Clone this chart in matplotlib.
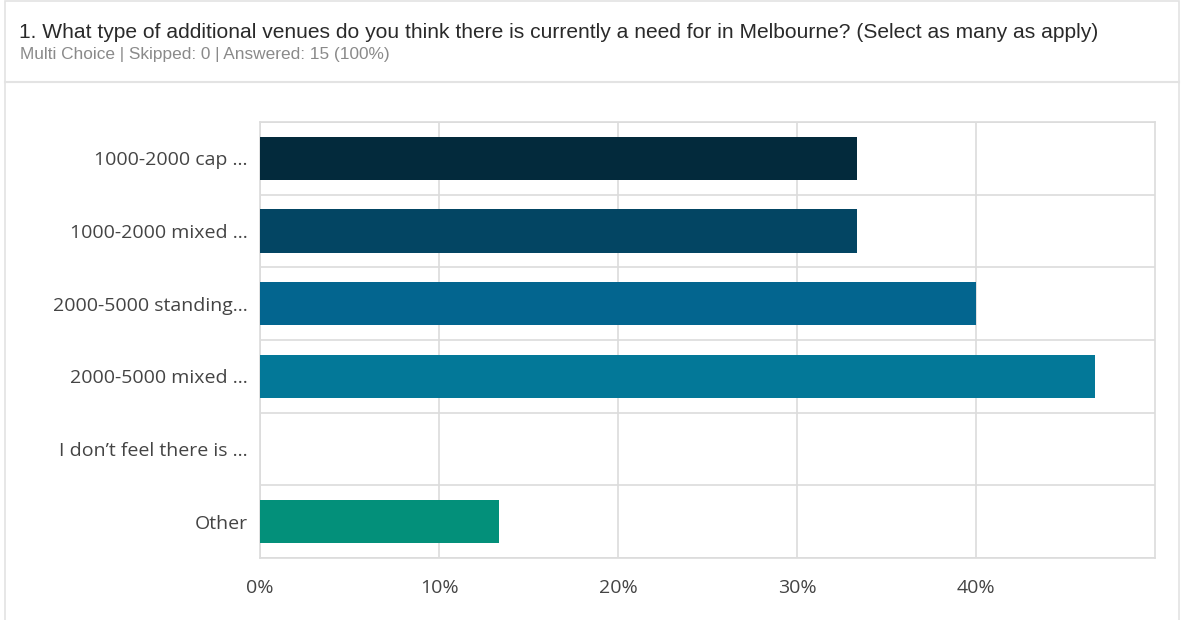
import matplotlib.pyplot as plt
from matplotlib.patches import Rectangle
from matplotlib.lines import Line2D
from matplotlib.ticker import FixedLocator

title = "1. What type of additional venues do you think there is currently a need for in Melbourne? (Select as many as apply)"
subtitle = "Multi Choice | Skipped: 0 | Answered: 15 (100%)"

categories = ["1000-2000 cap ...", "1000-2000 mixed ...", "2000-5000 standing...",
              "2000-5000 mixed ...", "I don\u2019t feel there is ...", "Other"]
percent = [33.33, 33.33, 40.0, 46.67, 0.0, 13.33]
bar_colors = ["#032a3c", "#034563", "#03658f", "#037898", "#0b8fa3", "#03907a"]
tick_values = [0, 10, 20, 30, 40]
tick_labels = ["0%", "10%", "20%", "30%", "40%"]

fig = plt.figure(figsize=(11.83, 6.2), dpi=100)
fig.patch.set_facecolor("white")

# card border and header separator
fig.add_artist(Rectangle((5 / 1183, -0.01), 1174 / 1183, 1.008, transform=fig.transFigure,
                         fill=False, edgecolor="#e3e3e3", linewidth=1.2))
fig.add_artist(Line2D([5 / 1183, 1179 / 1183], [1 - 82 / 620] * 2, transform=fig.transFigure,
                      color="#e3e3e3", linewidth=1.5))

fig.text(19 / 1183, 1 - 33 / 620, title, fontsize=15.1, family="Liberation Sans",
         color="#2a2a2a", va="center", ha="left")
fig.text(20 / 1183, 1 - 55 / 620, subtitle, fontsize=12.4, family="Liberation Sans",
         color="#8a8a8a", va="center", ha="left")

ax = fig.add_axes([260 / 1183, 62 / 620, 895 / 1183, 436 / 620])
y = list(range(len(categories)))
ax.barh(y, percent, height=0.6, color=bar_colors, zorder=3)
ax.set_xlim(0, 50)
ax.set_ylim(len(categories) - 0.5, -0.5)

ax.set_yticks(y)
ax.set_yticklabels(categories, fontsize=14, family="Open Sans", color="#444444")
ax.set_xticks(tick_values)
ax.set_xticklabels(tick_labels, fontsize=14, family="Open Sans", color="#444444")
ax.tick_params(axis="both", length=0)
ax.tick_params(axis="y", pad=9)
ax.tick_params(axis="x", pad=15)

ax.xaxis.set_minor_locator(FixedLocator([50]))
ax.yaxis.set_minor_locator(FixedLocator([i + 0.5 for i in range(-1, len(categories))]))
ax.grid(True, which="major", axis="x", color="#dcdcdc", linewidth=1.2, zorder=0)
ax.grid(True, which="minor", axis="y", color="#dcdcdc", linewidth=1.2, zorder=0)
ax.tick_params(which="minor", length=0)
for s in ax.spines.values():
    s.set_color("#dcdcdc")
    s.set_linewidth(1.2)

fig.savefig("out.png", dpi=100)
